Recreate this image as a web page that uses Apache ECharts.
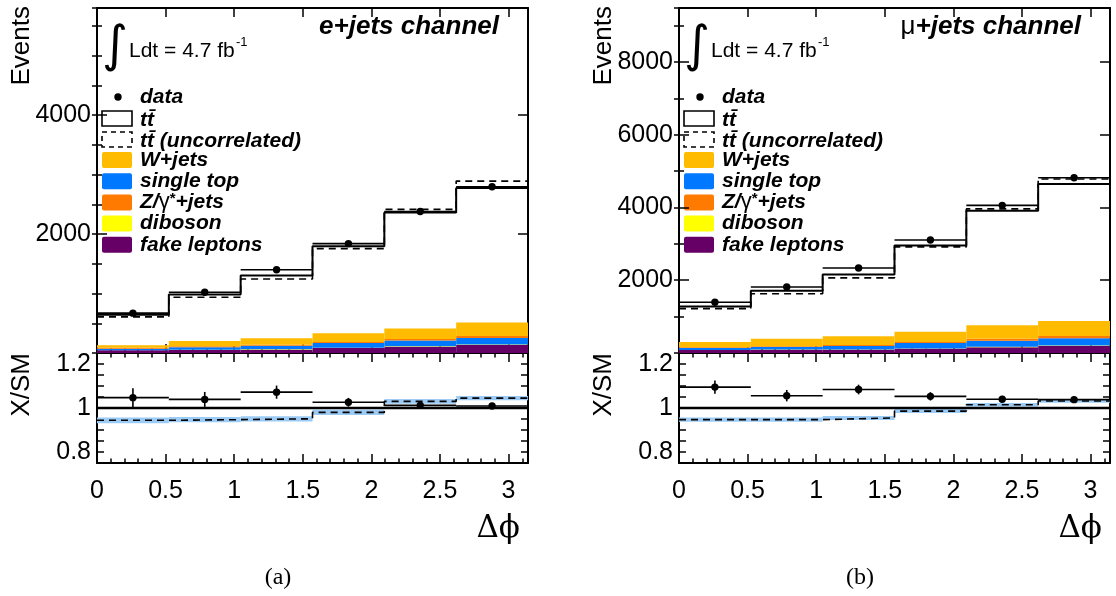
<!DOCTYPE html>
<html><head><meta charset="utf-8">
<script src="https://cdn.jsdelivr.net/npm/echarts@6/dist/echarts.min.js"></script>
<style>html,body{margin:0;padding:0;background:#fff}#c{width:1116px;height:596px}</style>
</head><body><div id="c"></div>
<script>
// ---- data ----
const binEdges = [0, 0.5236, 1.0472, 1.5708, 2.0944, 2.6180, 3.1416];
const xTickLabels = ['0', '0.5', '1', '1.5', '2', '2.5', '3'];
const ratioTickLabels = ['0.8', '1', '1.2'];

// e+jets channel
const eData       = [670, 1021, 1400, 1838, 2378, 2796];
const eSM         = [642, 982, 1302, 1795, 2360, 2775];
const eUncor      = [608, 937, 1245, 1755, 2415, 2890];
const eWjets      = [45, 89, 107, 145, 179, 228];
const eSingleTop  = [24, 41, 62, 77, 99, 109];
const eZjets      = [15, 17, 17, 18, 22, 35];
const eDiboson    = [3, 4, 5, 6, 7, 8];
const eFake       = [45, 50, 56, 84, 106, 134];
const eRatioData  = [1.047, 1.039, 1.072, 1.026, 1.012, 1.009];
const eRatioErr   = [0.043, 0.034, 0.030, 0.020, 0.015, 0.012];
const eRatioUncor = [0.944, 0.947, 0.951, 0.980, 1.030, 1.045];
const eRatioBand  = [0.013, 0.012, 0.012, 0.012, 0.011, 0.010];

// mu+jets channel
const mData       = [1393, 1813, 2335, 3104, 4057, 4816];
const mSM         = [1280, 1710, 2158, 2952, 3910, 4645];
const mUncor      = [1220, 1630, 2065, 2915, 3960, 4780];
const mWjets      = [143, 211, 236, 284, 366, 412];
const mSingleTop  = [53, 70, 99, 150, 169, 196];
const mZjets      = [22, 18, 27, 27, 55, 64];
const mDiboson    = [4, 5, 6, 8, 10, 12];
const mFake       = [80, 90, 90, 117, 160, 195];
const mRatioData  = [1.095, 1.056, 1.084, 1.053, 1.040, 1.038];
const mRatioErr   = [0.030, 0.026, 0.022, 0.019, 0.015, 0.014];
const mRatioUncor = [0.947, 0.947, 0.955, 0.986, 1.015, 1.032];
const mRatioBand  = [0.010, 0.010, 0.009, 0.009, 0.008, 0.008];

const C = {wjets:'#ffbb00', stop:'#0078ff', zjets:'#ff7a00', diboson:'#ffff00', fake:'#660066', band:'#9ccbf5'};
const FONT = '"Liberation Sans", Arial, Helvetica, sans-serif';
const XMAX = binEdges[binEdges.length - 1];

// ---- helpers ----
function stepPts(vals){
  const pts = vals.map((v,i)=>[binEdges[i], v]);
  pts.push([binEdges[vals.length], vals[vals.length-1]]);
  return pts;
}
function rectItem(params, api){
  const p0 = api.coord([api.value(0), api.value(3)]);
  const p1 = api.coord([api.value(1), api.value(2)]);
  return {type:'rect', shape:{x:p0[0], y:p0[1], width:p1[0]-p0[0], height:p1[1]-p0[1]}, style:{fill:api.visual('color')}};
}
function dataItem(params, api){
  const lo=api.value(0), hi=api.value(1), y=api.value(2), e=api.value(3);
  const xc=(lo+hi)/2;
  const a=api.coord([lo,y]), b=api.coord([hi,y]), c=api.coord([xc,y]);
  const ch=[{type:'line', shape:{x1:a[0],y1:a[1],x2:b[0],y2:b[1]}, style:{stroke:'#000', lineWidth:1.6}}];
  if(e>0){
    const t=api.coord([xc,y+e]), u=api.coord([xc,y-e]);
    ch.push({type:'line', shape:{x1:t[0],y1:t[1],x2:u[0],y2:u[1]}, style:{stroke:'#000', lineWidth:1.6}});
  }
  ch.push({type:'circle', shape:{cx:c[0], cy:c[1], r:3.7}, style:{fill:'#000'}});
  return {type:'group', children:ch};
}
function stackSeries(comps, xi, yi){
  const base = comps[0].vals.map(()=>0);
  return comps.map(c=>{
    const data = c.vals.map((v,i)=>{const b=base[i]; base[i]+=v; return [binEdges[i], binEdges[i+1], b, b+v];});
    return {type:'custom', name:c.name, xAxisIndex:xi, yAxisIndex:yi, renderItem:rectItem,
      encode:{x:[0,1], y:[2,3]}, itemStyle:{color:c.color}, data, z:2, silent:true};
  });
}
function stepLine(vals, xi, yi, dashed, width){
  return {type:'line', step:'end', xAxisIndex:xi, yAxisIndex:yi, symbol:'none', silent:true, z:4,
    lineStyle:{color:'#000', width:width||2, type: dashed ? [7,5] : 'solid'}, data:stepPts(vals)};
}
function dataSeries(vals, errs, xi, yi){
  return {type:'custom', xAxisIndex:xi, yAxisIndex:yi, renderItem:dataItem, encode:{x:[0,1], y:2}, z:6, silent:true,
    data: vals.map((v,i)=>[binEdges[i], binEdges[i+1], v, errs ? errs[i] : 0])};
}
function bandSeries(vals, errs, xi, yi){
  return {type:'custom', xAxisIndex:xi, yAxisIndex:yi, renderItem:rectItem, encode:{x:[0,1], y:[2,3]},
    itemStyle:{color:C.band}, z:2, silent:true,
    data: vals.map((v,i)=>[binEdges[i], binEdges[i+1], v-errs[i], v+errs[i]])};
}

// ---- layout ----
const W = 431;
const panels = [
  {left:97,  top:8,   height:345, kind:'main', ymax:5800, yMajor:2000, yMinor:500},
  {left:97,  top:353, height:110, kind:'ratio'},
  {left:679, top:8,   height:345, kind:'main', ymax:9480, yMajor:2000, yMinor:1000},
  {left:679, top:353, height:110, kind:'ratio'},
];
const grid=[], xAxis=[], yAxis=[];
const tickStyle = {color:'#000', width:1.5};
const lineStyle = {color:'#000', width:2};
function xFmt(v){
  const i = Math.round(v*2);
  return (Math.abs(v - i/2) < 1e-6 && i>=0 && i<xTickLabels.length) ? xTickLabels[i] : '';
}
function ratioFmt(v){
  const t=[0.8,1,1.2];
  for(let k=0;k<t.length;k++) if(Math.abs(v-t[k])<1e-6) return ratioTickLabels[k];
  return '';
}
panels.forEach((p, idx)=>{
  grid.push({left:p.left, top:p.top, width:W, height:p.height, containLabel:false});
  grid.push({left:p.left, top:p.top, width:W, height:p.height, containLabel:false});
  const gMaj = 2*idx, gMin = 2*idx+1;
  const isRatio = p.kind==='ratio';
  const xb = {type:'value', min:0, max:XMAX, splitLine:{show:false}, axisLine:{show:true, onZero:false, lineStyle}};
  xAxis.push(Object.assign({}, xb, {gridIndex:gMaj, position:'bottom', interval:0.5,
    axisTick:{show:true, inside:true, length:9, lineStyle:tickStyle},
    axisLabel:{show:isRatio, margin:16, fontSize:25, fontFamily:FONT, color:'#000', formatter:xFmt}}));
  xAxis.push(Object.assign({}, xb, {gridIndex:gMaj, position:'top', interval:0.5,
    axisTick:{show:true, inside:true, length:9, lineStyle:tickStyle}, axisLabel:{show:false}}));
  xAxis.push(Object.assign({}, xb, {gridIndex:gMin, position:'bottom', interval:0.1, axisLine:{show:false},
    axisTick:{show:true, inside:true, length:4.5, lineStyle:tickStyle}, axisLabel:{show:false}}));
  xAxis.push(Object.assign({}, xb, {gridIndex:gMin, position:'top', interval:0.1, axisLine:{show:false},
    axisTick:{show:true, inside:true, length:4.5, lineStyle:tickStyle}, axisLabel:{show:false}}));
  if(!isRatio){
    const yb = {type:'value', min:0, max:p.ymax, splitLine:{show:false}, axisLine:{show:true, onZero:false, lineStyle}};
    yAxis.push(Object.assign({}, yb, {gridIndex:gMaj, position:'left', interval:p.yMajor,
      axisTick:{show:true, inside:true, length:10, lineStyle:tickStyle},
      axisLabel:{show:true, margin:6, fontSize:25, fontFamily:FONT, color:'#000',
        formatter:v=> (v>0 && v%p.yMajor===0) ? String(v) : ''}}));
    yAxis.push(Object.assign({}, yb, {gridIndex:gMaj, position:'right', interval:p.yMajor,
      axisTick:{show:true, inside:true, length:10, lineStyle:tickStyle}, axisLabel:{show:false}}));
    yAxis.push(Object.assign({}, yb, {gridIndex:gMin, position:'left', interval:p.yMinor, axisLine:{show:false},
      axisTick:{show:true, inside:true, length:5, lineStyle:tickStyle}, axisLabel:{show:false}}));
    yAxis.push(Object.assign({}, yb, {gridIndex:gMin, position:'right', interval:p.yMinor, axisLine:{show:false},
      axisTick:{show:true, inside:true, length:5, lineStyle:tickStyle}, axisLabel:{show:false}}));
  } else {
    const yb = {type:'value', min:0.75, max:1.25, splitLine:{show:false}, axisLine:{show:true, onZero:false, lineStyle}};
    yAxis.push(Object.assign({}, yb, {gridIndex:gMaj, position:'left', interval:0.05,
      axisTick:{show:true, inside:true, length:7, lineStyle:tickStyle},
      axisLabel:{show:true, margin:6, fontSize:25, fontFamily:FONT, color:'#000', formatter:ratioFmt}}));
    yAxis.push(Object.assign({}, yb, {gridIndex:gMaj, position:'right', interval:0.05,
      axisTick:{show:true, inside:true, length:7, lineStyle:tickStyle}, axisLabel:{show:false}}));
    yAxis.push(Object.assign({}, yb, {gridIndex:gMin, position:'left', interval:0.05, axisLine:{show:false},
      axisTick:{show:false}, axisLabel:{show:false}}));
    yAxis.push(Object.assign({}, yb, {gridIndex:gMin, position:'right', interval:0.05, axisLine:{show:false},
      axisTick:{show:false}, axisLabel:{show:false}}));
  }
});

// ---- series ----
function channelSeries(d, xiMain, xiRatio){
  const comps = [
    {name:'fake leptons', vals:d.fake, color:C.fake},
    {name:'diboson', vals:d.diboson, color:C.diboson},
    {name:'single top', vals:d.stop, color:C.stop},
    {name:'Z/γ*+jets', vals:d.zjets, color:C.zjets},
    {name:'W+jets', vals:d.wjets, color:C.wjets},
  ];
  return [].concat(
    stackSeries(comps, xiMain, xiMain),
    [stepLine(d.uncor, xiMain, xiMain, true, 1.6),
     stepLine(d.sm, xiMain, xiMain, false, 2),
     dataSeries(d.data, null, xiMain, xiMain),
     bandSeries(d.rUncor, d.rBand, xiRatio, xiRatio),
     stepLine(d.rUncor, xiRatio, xiRatio, true, 1.6),
     {type:'line', xAxisIndex:xiRatio, yAxisIndex:xiRatio, symbol:'none', silent:true, z:4,
      lineStyle:{color:'#000', width:2.5}, data:[[0,1],[XMAX,1]]},
     dataSeries(d.rData, d.rErr, xiRatio, xiRatio)]
  );
}
const series = [].concat(
  channelSeries({data:eData, sm:eSM, uncor:eUncor, wjets:eWjets, stop:eSingleTop, zjets:eZjets, diboson:eDiboson, fake:eFake,
    rData:eRatioData, rErr:eRatioErr, rUncor:eRatioUncor, rBand:eRatioBand}, 0, 4),
  channelSeries({data:mData, sm:mSM, uncor:mUncor, wjets:mWjets, stop:mSingleTop, zjets:mZjets, diboson:mDiboson, fake:mFake,
    rData:mRatioData, rErr:mRatioErr, rUncor:mRatioUncor, rBand:mRatioBand}, 8, 12)
);

// ---- text / legend graphics ----
const legendItems = [
  {label:'W+jets', color:C.wjets},
  {label:'single top', color:C.stop},
  {label:'Z/γ*+jets', color:C.zjets, rich:true},
  {label:'diboson', color:C.diboson},
  {label:'fake leptons', color:C.fake},
];
const BI = 'bold italic 21px ' + FONT;
function panelGraphics(L, channelRich, letter, capX){
  const g = [];
  g.push({type:'text', x:L+18, y:48, style:{text:'∫', font:'50px "DejaVu Sans"', fill:'#000', align:'center', verticalAlign:'middle'}});
  g.push({type:'text', x:L+32, y:51, style:{text:'Ldt = 4.7 fb', font:'21px '+FONT, fill:'#000', align:'left', verticalAlign:'middle'}});
  g.push({type:'text', x:L+139, y:42, style:{text:'-1', font:'13px '+FONT, fill:'#000', align:'left', verticalAlign:'middle'}});
  g.push({type:'text', x:L+402, y:27, style:Object.assign({fill:'#000', align:'right', verticalAlign:'middle'}, channelRich)});
  // legend
  g.push({type:'circle', shape:{cx:L+21, cy:97, r:3.7}, style:{fill:'#000'}});
  g.push({type:'text', x:L+43, y:97, style:{text:'data', font:BI, fill:'#000', align:'left', verticalAlign:'middle'}});
  g.push({type:'rect', shape:{x:L+5, y:111, width:30, height:15}, style:{fill:'#fff', stroke:'#000', lineWidth:1.6}});
  g.push({type:'text', x:L+43, y:120, style:{text:'tt\u0304', font:BI, fill:'#000', align:'left', verticalAlign:'middle'}});
  g.push({type:'rect', shape:{x:L+5, y:132, width:30, height:15}, style:{fill:'#fff', stroke:'#000', lineWidth:1.6, lineDash:[5,4]}});
  g.push({type:'text', x:L+43, y:141, style:{text:'tt\u0304 (uncorrelated)', font:BI, fill:'#000', align:'left', verticalAlign:'middle'}});
  legendItems.forEach((it, k)=>{
    const cy = 160 + k*21.2;
    g.push({type:'rect', shape:{x:L+5, y:cy-8, width:30, height:16, r:2}, style:{fill:it.color}});
    if(it.rich){
      g.push({type:'text', x:L+43, y:cy, style:{text:'{a|Z/}{g|γ}{s|*}{a|+jets}', fill:'#000', align:'left', verticalAlign:'middle',
        rich:{a:{font:BI}, g:{font:'22px '+FONT}, s:{font:'bold 15px '+FONT, padding:[0,0,8,0]}}}});
    } else {
      g.push({type:'text', x:L+43, y:cy, style:{text:it.label, font:BI, fill:'#000', align:'left', verticalAlign:'middle'}});
    }
  });
  // axis titles
  g.push({type:'text', x:L-75, y:6, rotation:Math.PI/2, style:{text:'Events', font:'26px '+FONT, fill:'#000', align:'right', verticalAlign:'middle'}});
  g.push({type:'text', x:L-75, y:353, rotation:Math.PI/2, style:{text:'X/SM', font:'26px '+FONT, fill:'#000', align:'right', verticalAlign:'middle'}});
  g.push({type:'text', x:L+423, y:529, style:{text:'Δϕ', font:'31px "DejaVu Serif", "Liberation Serif", serif', fill:'#000', align:'right', verticalAlign:'middle'}});
  g.push({type:'text', x:capX, y:578, style:{text:letter, font:'24px "Liberation Serif", "DejaVu Serif", serif', fill:'#000', align:'center', verticalAlign:'middle'}});
  return g;
}
const graphic = [].concat(
  panelGraphics(97, {text:'e+jets channel', font:'bold italic 26px '+FONT}, '(a)', 278),
  panelGraphics(679, {text:'{m|μ}{a|+jets channel}', rich:{m:{font:'26px '+FONT}, a:{font:'bold italic 26px '+FONT}}}, '(b)', 860)
);

const chart = echarts.init(document.getElementById('c'), null, {renderer:'canvas', width:1116, height:596});
chart.setOption({
  animation:false,
  backgroundColor:'#fff',
  textStyle:{fontFamily:FONT},
  grid, xAxis, yAxis, series, graphic
});
</script>
</body></html>
